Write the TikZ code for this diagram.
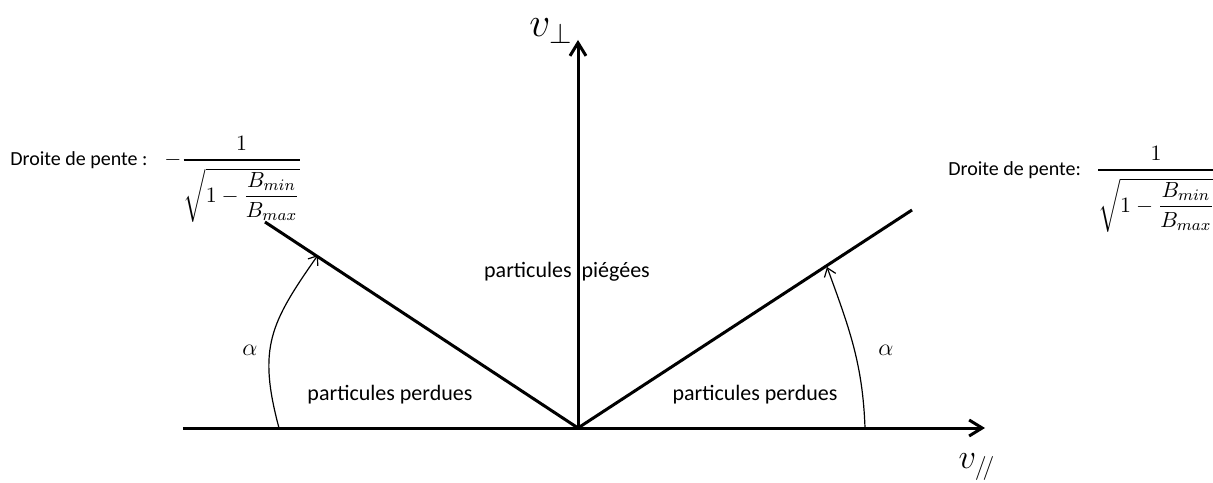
\documentclass[tikz,border=0pt]{standalone}
\usepackage{amsmath, amssymb}
\usepackage{fontspec}
\setmainfont{Carlito}
\usetikzlibrary{arrows.meta, positioning}
\newcommand{\vpar}{v_{/\!/}}
\newcommand{\pente}{\genfrac{}{}{1.2pt}{0}{1}{\sqrt{1-\dfrac{B_{min}}{B_{max}}}}}

\begin{document}
\begin{tikzpicture}[x=0.5pt, y=0.5pt, >={Straight Barb[length=6.5pt,width=8pt]},
    axe/.style={line width=1.5pt},
    fleche/.style={line width=0.6pt, -{Straight Barb[length=4pt,width=6pt]}},
    zone/.style={font=\fontsize{11}{13}\selectfont, inner sep=0pt},
    lib/.style={font=\fontsize{10}{12}\selectfont, inner sep=0pt}]
        \useasboundingbox (-578,-54) rectangle (635,428);
        % axes
        \coordinate (O) at (0,0);
        \coordinate (xg) at (-395,0);
        \coordinate (xd) at (407,0);
        \coordinate (yh) at (0,388);
        \draw[axe, ->] (xg) -- (xd);
        \draw[axe, ->] (O) -- (yh);
        \node (vperp) at (-27,397) {\fontsize{21}{24}\selectfont $v_\perp$};
        \node (vpar) at (399,-39) {\fontsize{18}{21}\selectfont $\vpar$};
        % droites de pente
        \coordinate (dg) at (-313,206);
        \coordinate (dd) at (334,218);
        \draw[axe] (O) -- (dg);
        \draw[axe] (O) -- (dd);
        % angles
        \coordinate (ag) at (-299,0);
        \coordinate (bg) at (-260,173);
        \coordinate (ad) at (287,0);
        \coordinate (bd) at (249,161);
        \draw[fleche] (ag) to[out=105, in=-125, looseness=1.2] (bg);
        \draw[fleche] (ad) to[out=92, in=-70] (bd);
        \node (alg) at (-328,78) {\fontsize{13}{15}\selectfont $\alpha$};
        \node (ald) at (308,78) {\fontsize{13}{15}\selectfont $\alpha$};
        % zones
        \node[zone] (piege) at (-11,156) {particules\ \ piégées};
        \node[zone] (perdg) at (-188,33) {particules perdues};
        \node[zone] (perdd) at (177,33) {particules perdues};
        % legendes
        \node[lib, anchor=west] (labg) at (-568,268) {Droite de pente :};
        \node[base right=8pt of labg, inner sep=0pt] (fg) {\fontsize{11}{13}\selectfont $-\pente$};
        \node[lib, anchor=west] (labd) at (370,258) {Droite de pente:};
        \node[base right=7pt of labd, inner sep=0pt] (fd) {\fontsize{11}{13}\selectfont $\pente$};
\end{tikzpicture}
\end{document}
